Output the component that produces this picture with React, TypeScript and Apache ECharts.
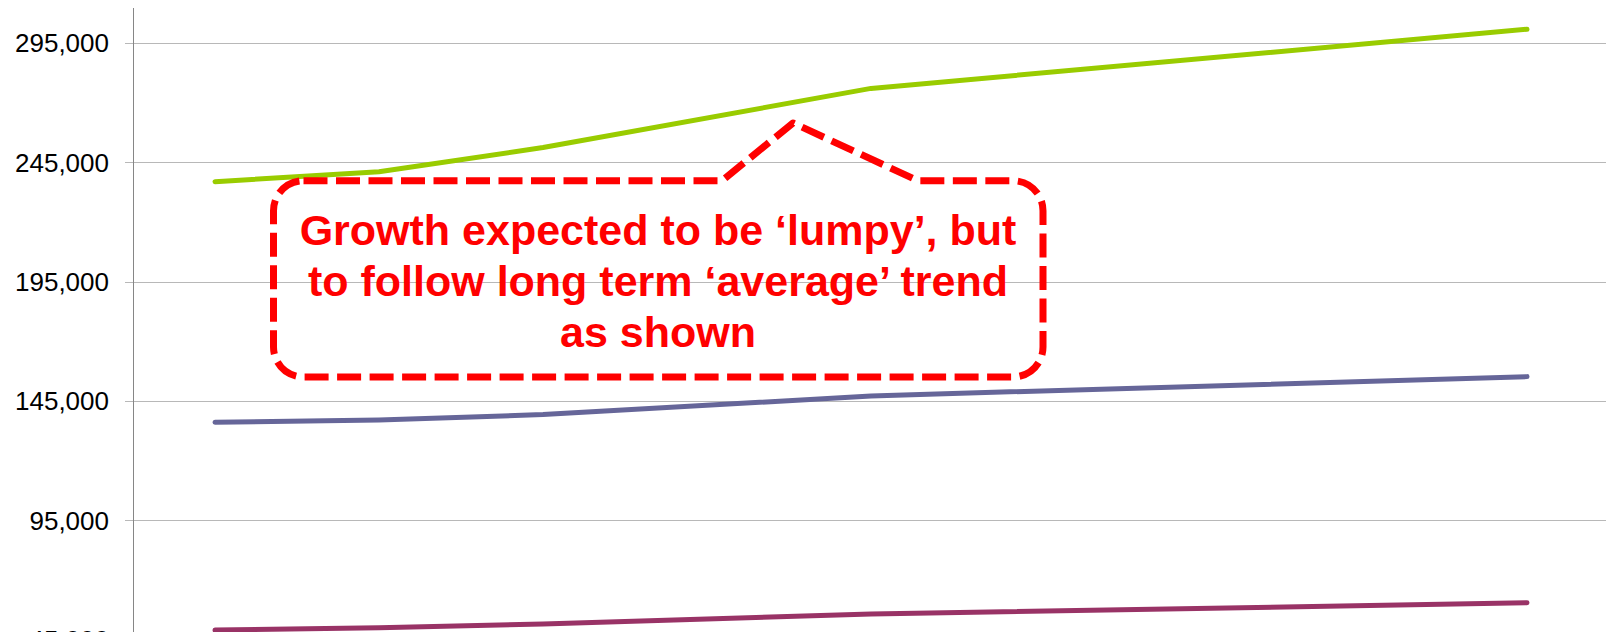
import React, { useEffect, useRef } from "react";
import * as echarts from "echarts";

// Period positions (category slots) of each data point
const periods = [0, 1, 2, 4, 8];

// Series values
const greenValues = [237000, 241200, 251300, 276100, 300900];
const blueValues = [136200, 137100, 139400, 147200, 155300];
const magentaValues = [49100, 50100, 51600, 55800, 60500];

// Y axis ticks
const yMin = 45000;
const yMax = 345000;
const yInterval = 50000;

const calloutText = [
  "Growth expected to be \u2018lumpy\u2019, but",
  "to follow long term \u2018average\u2019 trend",
  "as shown",
];

const calloutPath =
  "M 295.5 172.7 L 714 172.7 L 785 115 L 910 172.7 L 1005 172.7 " +
  "C 1021.6 172.7 1035 186.1 1035 202.7 L 1035 339 " +
  "C 1035 355.6 1021.6 369 1005 369 L 295.5 369 " +
  "C 278.9 369 265.5 355.6 265.5 339 L 265.5 202.7 " +
  "C 265.5 186.1 278.9 172.7 295.5 172.7 Z";

const pair = (vals: number[]) => periods.map((p, i) => [p, vals[i]]);

export default function App() {
  const ref = useRef<HTMLDivElement>(null);
  useEffect(() => {
    if (!ref.current) return;
    echarts.graphic.registerShape(
      "callout",
      echarts.graphic.extendPath(calloutPath, {}) as any
    );
    const chart = echarts.init(ref.current, undefined, { renderer: "svg" });
    const lineStyle = (color: string) => ({ color, width: 5, cap: "round" as const, join: "round" as const });
    chart.setOption({
      animation: false,
      backgroundColor: "#ffffff",
      grid: {
        left: 125,
        top: -84,
        width: 1476,
        height: 715.8,
        containLabel: false,
        outerBoundsMode: "none",
      },
      xAxis: {
        type: "value",
        min: -0.5,
        max: 8.5,
        show: false,
        splitLine: { show: false },
      },
      yAxis: {
        type: "value",
        min: yMin,
        max: yMax,
        interval: yInterval,
        axisLine: { show: true, onZero: false, lineStyle: { color: "#868686", width: 1 } },
        axisTick: { show: true, length: 8, lineStyle: { color: "#b8b8b8" } },
        splitLine: { show: true, lineStyle: { color: "#b8b8b8", width: 1 } },
        axisLabel: {
          margin: 24,
          color: "#000000",
          fontSize: 26,
          showMaxLabel: false,
          fontFamily: '"Liberation Sans", Arial, sans-serif',
          formatter: (v: number) => v.toLocaleString("en-US"),
        },
      },
      series: [
        {
          type: "line",
          name: "Green",
          data: pair(greenValues),
          showSymbol: false,
          lineStyle: lineStyle("#99cc00"),
          itemStyle: { color: "#99cc00" },
        },
        {
          type: "line",
          name: "Blue",
          data: pair(blueValues),
          showSymbol: false,
          lineStyle: lineStyle("#666699"),
          itemStyle: { color: "#666699" },
        },
        {
          type: "line",
          name: "Magenta",
          data: pair(magentaValues),
          showSymbol: false,
          lineStyle: lineStyle("#993366"),
          itemStyle: { color: "#993366" },
        },
      ],
      graphic: [
        {
          type: "callout",
          x: 0,
          y: 0,
          z: 100,
          style: {
            fill: "transparent",
            stroke: "#ff0000",
            lineWidth: 7,
            lineDash: [24, 8.5],
            lineJoin: "round",
          },
        },
        {
          type: "text",
          x: 650,
          y: 273,
          z: 101,
          style: {
            text: calloutText.join("\n"),
            fill: "#ff0000",
            fontSize: 43,
            fontWeight: "bold",
            fontFamily: '"Liberation Sans", Arial, sans-serif',
            align: "center",
            verticalAlign: "middle",
            lineHeight: 51,
          },
        },
      ],
    });
    return () => chart.dispose();
  }, []);
  return (
    <div
      ref={ref}
      style={{ position: "absolute", left: 8, top: 8, width: 1598, height: 624 }}
    />
  );
}
